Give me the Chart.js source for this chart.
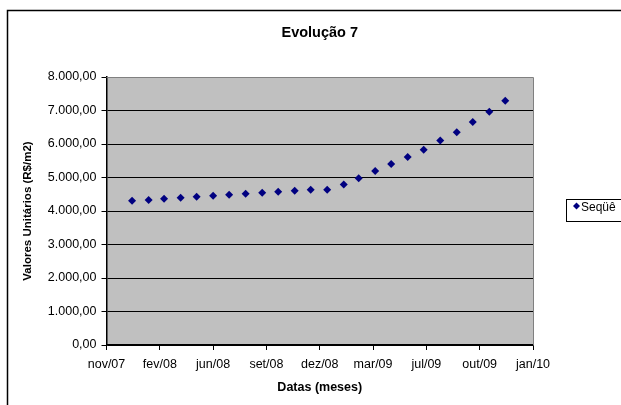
<!DOCTYPE html>
<html>
<head>
<meta charset="utf-8">
<script src="https://cdn.jsdelivr.net/npm/chart.js@4"></script>
<style>
  html, body { margin: 0; padding: 0; background: #fff; }
  #wrap { width: 621px; height: 405px; position: relative; }
</style>
</head>
<body>
<div id="wrap"><canvas id="evolucaoChart" width="621" height="405"></canvas></div>
<script>
// months of the series (first day of each month)
const months = [
  '2008-01-01', '2008-02-01', '2008-03-01', '2008-04-01', '2008-05-01', '2008-06-01',
  '2008-07-01', '2008-08-01', '2008-09-01', '2008-10-01', '2008-11-01', '2008-12-01',
  '2009-01-01', '2009-02-01', '2009-03-01', '2009-04-01', '2009-05-01', '2009-06-01',
  '2009-07-01', '2009-08-01', '2009-09-01', '2009-10-01', '2009-11-01', '2009-12-01'
];
// unit values (R$/m2)
const values = [
  4305, 4328, 4367, 4397, 4427, 4457, 4487, 4516, 4546, 4576, 4606, 4636,
  4636, 4790, 4975, 5195, 5405, 5615, 5825, 6105, 6350, 6660, 6960, 7290
];
// x axis: Excel date serials, 100-day steps
const xTickValues = [39400, 39500, 39600, 39700, 39800, 39900, 40000, 40100, 40200];
const xTickLabels = ['nov/07', 'fev/08', 'jun/08', 'set/08', 'dez/08', 'mar/09', 'jul/09', 'out/09', 'jan/10'];
const yTickLabels = ['0,00', '1.000,00', '2.000,00', '3.000,00', '4.000,00', '5.000,00', '6.000,00', '7.000,00', '8.000,00'];

function toSerial(iso) {
  const d = new Date(iso + 'T00:00:00Z');
  return Math.round((d - Date.UTC(1899, 11, 30)) / 86400000);
}

const points = months.map((m, i) => ({ x: toSerial(m), y: values[i] }));

// gray plot area + frame + legend box
const decor = {
  id: 'decor',
  beforeDraw(chart) {
    const { ctx, chartArea: a } = chart;
    ctx.save();
    ctx.fillStyle = '#fff';
    ctx.fillRect(0, 0, chart.width, chart.height);
    ctx.fillStyle = '#c0c0c0';
    ctx.fillRect(a.left, a.top, a.right - a.left, a.bottom - a.top);
    // outer frame (left + top, the rest is cropped)
    ctx.strokeStyle = '#000';
    ctx.lineWidth = 1.5;
    ctx.beginPath();
    ctx.moveTo(7.5, chart.height);
    ctx.lineTo(7.5, 10.5);
    ctx.lineTo(chart.width, 10.5);
    ctx.stroke();
    // title
    ctx.fillStyle = '#000';
    ctx.font = 'bold 14.5px "Liberation Sans", Arial, sans-serif';
    ctx.textAlign = 'center';
    ctx.textBaseline = 'middle';
    ctx.fillText('Evolução 7', (a.left + a.right) / 2, 33);
    ctx.restore();
  },
  afterDraw(chart) {
    const { ctx, chartArea: a } = chart;
    ctx.save();
    // gray frame on top and right of plot area
    ctx.strokeStyle = '#808080';
    ctx.lineWidth = 1;
    ctx.beginPath();
    ctx.moveTo(a.left, a.top + 0.5);
    ctx.lineTo(a.right + 0.5, a.top + 0.5);
    ctx.lineTo(a.right + 0.5, a.bottom);
    ctx.stroke();
    // legend
    const bx = 566.5, by = 199.5, bh = 22;
    ctx.fillStyle = '#fff';
    ctx.fillRect(bx, by, 80, bh);
    ctx.strokeStyle = '#000';
    ctx.strokeRect(bx, by, 80, bh);
    ctx.beginPath();
    ctx.rect(bx + 1, by + 1, 78, bh - 2);
    ctx.clip();
    ctx.fillStyle = '#000080';
    ctx.beginPath();
    ctx.moveTo(576.5, 202.5);
    ctx.lineTo(580, 206);
    ctx.lineTo(576.5, 209.5);
    ctx.lineTo(573, 206);
    ctx.closePath();
    ctx.fill();
    ctx.fillStyle = '#000';
    ctx.font = '12px "Liberation Sans", Arial, sans-serif';
    ctx.textAlign = 'left';
    ctx.textBaseline = 'alphabetic';
    ctx.fillText('Seqüê', 581, 210.5);
    ctx.fillText('ncia1', 581, 231);
    ctx.restore();
  }
};

new Chart(document.getElementById('evolucaoChart'), {
  type: 'scatter',
  data: {
    datasets: [{
      label: 'Seqüência1',
      data: points,
      pointStyle: 'rectRot',
      pointRadius: 4,
      pointHoverRadius: 4,
      backgroundColor: '#000080',
      borderColor: '#000080',
      borderWidth: 0
    }]
  },
  options: {
    responsive: false,
    animation: false,
    layout: { padding: { left: 0, top: 77, right: 88, bottom: 0 } },
    plugins: {
      legend: { display: false },
      title: { display: false },
      tooltip: { enabled: false }
    },
    scales: {
      x: {
        type: 'linear',
        min: 39400,
        max: 40200,
        afterBuildTicks(scale) { scale.ticks = xTickValues.map(v => ({ value: v })); },
        afterFit(scale) { scale.height = 60; },
        ticks: {
          autoSkip: false,
          maxRotation: 0,
          padding: 7,
          color: '#000',
          font: { family: '"Liberation Sans", Arial, sans-serif', size: 12.5 },
          callback: (v) => xTickLabels[xTickValues.indexOf(v)]
        },
        grid: { drawOnChartArea: false, drawTicks: true, tickLength: 5, color: '#000' },
        border: { color: '#000', width: 1.5 },
        title: {
          display: true,
          text: 'Datas (meses)',
          color: '#000',
          font: { family: '"Liberation Sans", Arial, sans-serif', size: 12.5, weight: 'bold' },
          padding: { top: 0, bottom: 10 }
        }
      },
      y: {
        min: 0,
        max: 8000,
        afterBuildTicks(scale) {
          scale.ticks = yTickLabels.map((t, i) => ({ value: i * 1000 }));
        },
        afterFit(scale) { scale.width = 106.5; },
        ticks: {
          autoSkip: false,
          padding: 5,
          color: '#000',
          font: { family: '"Liberation Sans", Arial, sans-serif', size: 12.5 },
          callback: (v) => yTickLabels[v / 1000]
        },
        grid: { color: '#000', tickLength: 5, lineWidth: 1 },
        border: { color: '#000', width: 1.5 },
        title: {
          display: true,
          text: 'Valores Unitários (R$/m2)',
          color: '#000',
          font: { family: '"Liberation Sans", Arial, sans-serif', size: 11.5, weight: 'bold' },
          padding: { top: 21, bottom: 0 }
        }
      }
    }
  },
  plugins: [decor]
});
</script>
</body>
</html>
